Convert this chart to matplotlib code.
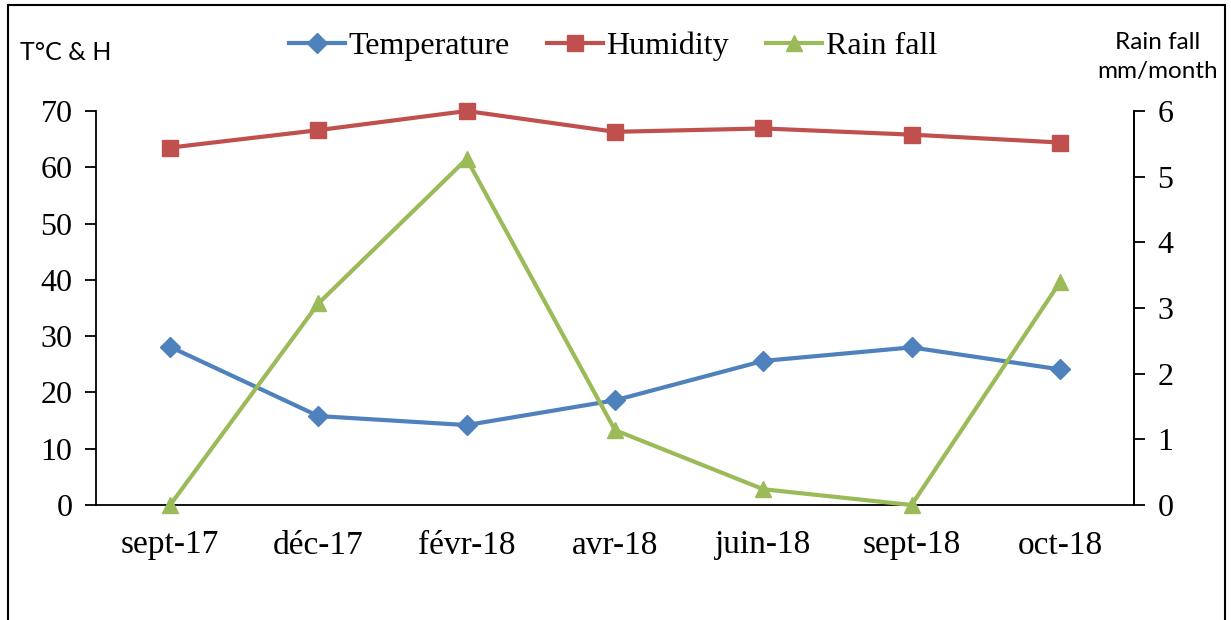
import matplotlib
matplotlib.use("Agg")
import matplotlib.pyplot as plt
from matplotlib.patches import Rectangle
from matplotlib.lines import Line2D

categories = ["sept-17", "déc-17", "févr-18", "avr-18", "juin-18", "sept-18", "oct-18"]
temperature = [28.1, 15.8, 14.2, 18.6, 25.6, 28.0, 24.1]
humidity = [63.5, 66.6, 70.0, 66.3, 66.9, 65.8, 64.4]
rainfall = [0.0, 3.07, 5.27, 1.14, 0.24, 0.0, 3.39]
left_ticks = [0, 10, 20, 30, 40, 50, 60, 70]
right_ticks = [0, 1, 2, 3, 4, 5, 6]

BLUE = "#4F81BD"
RED = "#C0504D"
GREEN = "#9BBB59"
SERIF = "Liberation Serif"
SANS = "Lato"

fig = plt.figure(figsize=(12.31, 6.20), dpi=100)
fig.patches.append(Rectangle((8 / 1231, -0.05), (1225 - 8) / 1231, 1.05 - 5 / 620,
                             transform=fig.transFigure, fill=False,
                             edgecolor="black", linewidth=1.5))

ax = fig.add_axes([96 / 1231, (620 - 505) / 620, (1134 - 96) / 1231, (505 - 111) / 620])
ax2 = ax.twinx()
x = list(range(len(categories)))

lw = 3.0
ax.plot(x, temperature, color=BLUE, lw=lw, marker="D", ms=10, clip_on=False, zorder=3)
ax.plot(x, humidity, color=RED, lw=lw, marker="s", ms=11, clip_on=False, zorder=3)
ax2.plot(x, rainfall, color=GREEN, lw=lw, marker="^", ms=12, clip_on=False, zorder=3)

ax.set_xlim(-0.5, len(categories) - 0.5)
ax.set_ylim(0, 70)
ax2.set_ylim(0, 6)
ax.set_yticks(left_ticks)
ax2.set_yticks(right_ticks)
ax.set_xticks(x)
ax.set_xticklabels(categories, fontfamily=SERIF, fontsize=24)
ax.tick_params(axis="x", length=0, pad=18)
ax.tick_params(axis="y", direction="out", length=8, width=1.3, pad=9)
ax2.tick_params(axis="y", direction="out", length=8, width=1.3, pad=9)
for lab in ax.get_yticklabels() + ax2.get_yticklabels():
    lab.set_fontfamily(SERIF)
    lab.set_fontsize(23)

for a in (ax, ax2):
    a.spines["top"].set_visible(False)
    for s in ("left", "right", "bottom"):
        a.spines[s].set_linewidth(1.3)
ax2.spines["left"].set_visible(False)
ax2.spines["bottom"].set_visible(False)

fig.text(20 / 1231, 1 - 53 / 620, "T°C & H", fontfamily=SANS, fontsize=18, va="center", ha="left")
fig.text(1158 / 1231, 1 - 57 / 620, "Rain fall\nmm/month", fontfamily=SANS, fontsize=17.5,
         va="center", ha="center", linespacing=1.5)

handles = [
    Line2D([], [], color=BLUE, lw=lw, marker="D", ms=10),
    Line2D([], [], color=RED, lw=lw, marker="s", ms=11),
    Line2D([], [], color=GREEN, lw=lw, marker="^", ms=12),
]
fig.legend(handles, ["Temperature", "Humidity", "Rain fall"], loc="center",
           bbox_to_anchor=(613 / 1231, 1 - 46 / 620), ncol=3, frameon=False,
           prop={"family": SERIF, "size": 23}, handlelength=1.75, handletextpad=0.12,
           columnspacing=1.15, borderaxespad=0)

fig.savefig("out.png", dpi=100)
